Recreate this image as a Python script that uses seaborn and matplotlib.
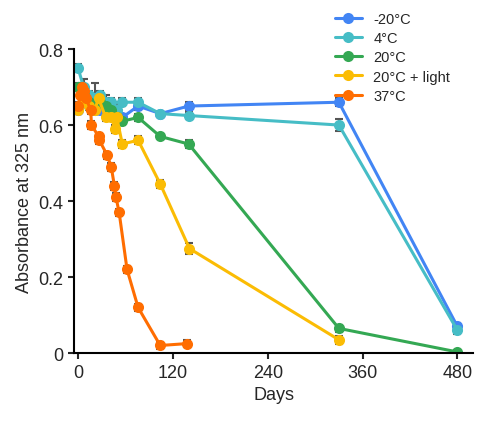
import matplotlib
matplotlib.use("Agg")
import matplotlib.pyplot as plt
import seaborn as sns
import pandas as pd

labels = ["-20°C", "4°C", "20°C", "20°C + light", "37°C"]
colors = ["#4285F4", "#46BDC6", "#34A853", "#FBBC04", "#FF6D01"]

days_m20 = [0, 7, 14, 21, 28, 35, 42, 49, 56, 76, 104, 140, 330, 480]
abs_m20 = [0.64, 0.66, 0.65, 0.64, 0.64, 0.63, 0.64, 0.62, 0.62, 0.65, 0.63, 0.65, 0.66, 0.07]
err_m20 = [0.01, 0.01, 0.01, 0.01, 0.01, 0.01, 0.01, 0.01, 0.01, 0.01, 0.005, 0.01, 0.01, 0.01]

days_4 = [0, 7, 14, 21, 28, 35, 42, 49, 56, 76, 104, 140, 330, 480]
abs_4 = [0.75, 0.70, 0.68, 0.67, 0.68, 0.66, 0.66, 0.64, 0.66, 0.66, 0.63, 0.625, 0.60, 0.06]
err_4 = [0.01, 0.02, 0.01, 0.04, 0.01, 0.02, 0.01, 0.02, 0.01, 0.01, 0.005, 0.01, 0.015, 0.01]

days_20 = [0, 7, 14, 21, 28, 35, 42, 49, 56, 76, 104, 140, 330, 480]
abs_20 = [0.70, 0.68, 0.66, 0.65, 0.66, 0.65, 0.64, 0.62, 0.61, 0.62, 0.57, 0.55, 0.065, 0.003]
err_20 = [0.01, 0.01, 0.01, 0.01, 0.01, 0.01, 0.01, 0.01, 0.01, 0.01, 0.005, 0.01, 0.01, 0.005]

days_20l = [0, 7, 14, 21, 26, 35, 42, 47, 49, 56, 76, 104, 141, 330]
abs_20l = [0.64, 0.66, 0.65, 0.64, 0.67, 0.62, 0.62, 0.59, 0.62, 0.55, 0.56, 0.445, 0.275, 0.035]
err_20l = [0.01, 0.01, 0.01, 0.01, 0.01, 0.01, 0.01, 0.01, 0.01, 0.01, 0.01, 0.01, 0.015, 0.01]

days_37 = [0, 3, 5, 7, 10, 16, 17, 26, 27, 37, 42, 46, 48, 52, 62, 76, 104, 138]
abs_37 = [0.65, 0.68, 0.70, 0.69, 0.67, 0.64, 0.60, 0.57, 0.56, 0.52, 0.49, 0.44, 0.41, 0.37, 0.22, 0.12, 0.02, 0.025]
err_37 = [0.01, 0.01, 0.01, 0.01, 0.01, 0.01, 0.01, 0.01, 0.01, 0.01, 0.01, 0.01, 0.01, 0.01, 0.01, 0.01, 0.01, 0.01]

series = [(days_m20, abs_m20, err_m20), (days_4, abs_4, err_4), (days_20, abs_20, err_20),
          (days_20l, abs_20l, err_20l), (days_37, abs_37, err_37)]

sns.set_style("white")
plt.rcParams['font.family'] = ['Liberation Sans', 'DejaVu Sans']
fig, ax = plt.subplots(figsize=(4.78, 4.35), dpi=100)

frames = []
for lab, (d, a, e) in zip(labels, series):
    frames.append(pd.DataFrame({"Days": d, "Abs": a, "Err": e, "Sample": lab}))
df = pd.concat(frames)

for lab, c, (d, a, e) in zip(labels, colors, series):
    ax.errorbar(d, a, yerr=e, fmt="none", ecolor="#555555", elinewidth=1.5, capsize=3, capthick=1.5, zorder=1)

sns.lineplot(data=df, x="Days", y="Abs", hue="Sample", palette=colors, hue_order=labels,
             marker="o", markersize=8, markeredgewidth=0, linewidth=2.2, sort=False,
             estimator=None, ax=ax, zorder=2)

ax.set_xlim(-5, 500)
ax.set_ylim(0, 0.8)
ax.set_xticks([0, 120, 240, 360, 480])
ax.set_yticks([0, 0.2, 0.4, 0.6, 0.8])
ax.set_yticklabels(["0", "0.2", "0.4", "0.6", "0.8"])
ax.set_xlabel("Days", fontsize=13)
ax.set_ylabel("Absorbance at 325 nm", fontsize=13)
ax.tick_params(labelsize=13, direction="out", length=4, width=1.5, left=True, bottom=True)
for s in ["top", "right"]:
    ax.spines[s].set_visible(False)
for s in ["left", "bottom"]:
    ax.spines[s].set_linewidth(1.5)
    ax.spines[s].set_color("black")

ax.legend(loc="upper left", bbox_to_anchor=(0.64, 1.14), frameon=False, fontsize=10.5,
          handlelength=1.8, borderaxespad=0, labelspacing=0.35)
fig.subplots_adjust(left=0.155, right=0.99, top=0.885, bottom=0.186)
fig.savefig("out.png")
